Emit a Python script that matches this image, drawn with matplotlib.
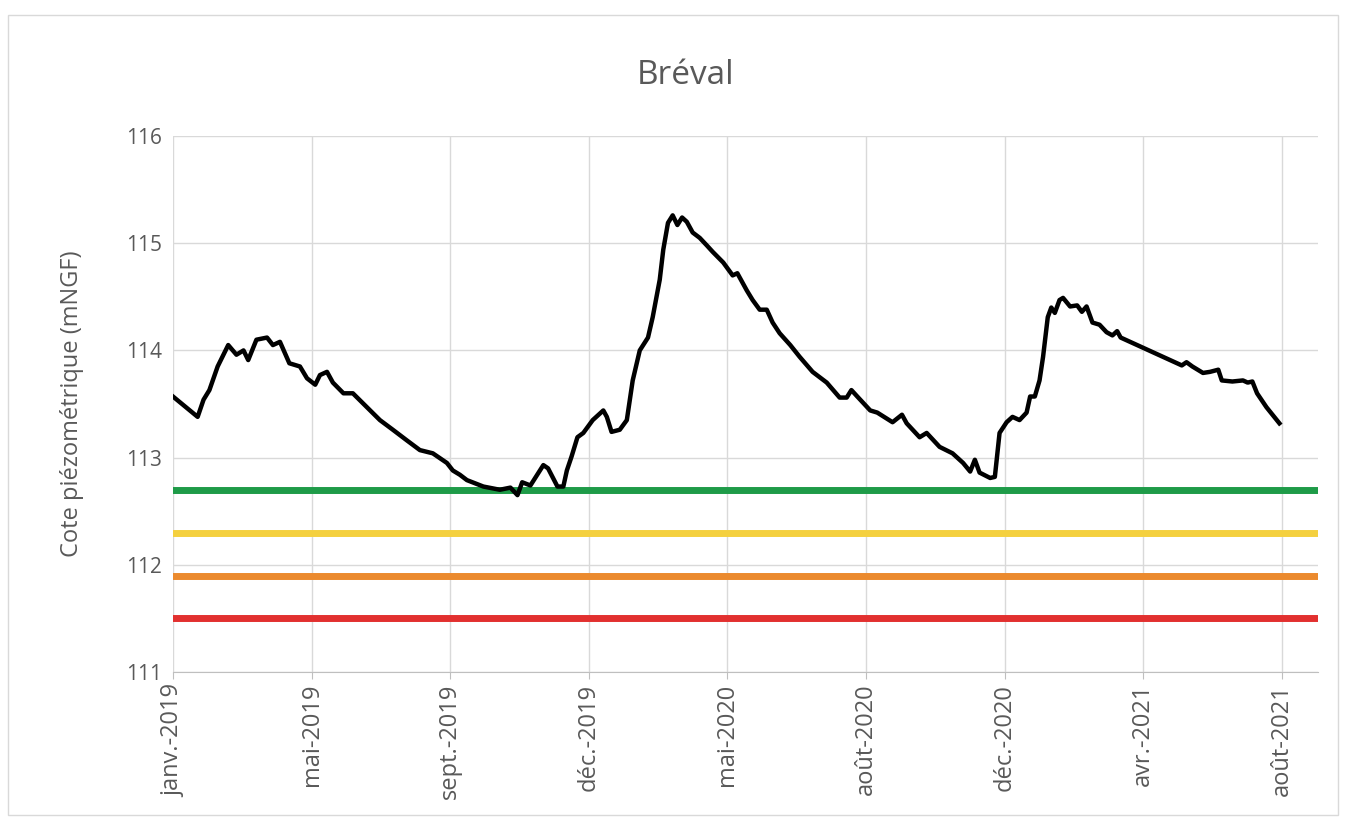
import matplotlib
matplotlib.use('Agg')
import matplotlib.pyplot as plt
import pandas as pd
from matplotlib.patches import Rectangle

# days since 2019-01-01 and water level (mNGF)
days = [0, 21, 26, 31, 38, 47, 54, 60, 64, 71, 80, 85, 91, 99, 108, 114, 121, 125,
        131, 136, 145, 153, 165, 176, 187, 199, 210, 221, 233, 238, 244, 250, 264,
        278, 287, 293, 297, 304, 315, 319, 327, 332, 335, 339, 344, 349, 357, 366,
        369, 373, 380, 386, 391, 397, 404, 408, 414, 417, 421, 425, 429, 433, 437,
        442, 448, 454, 459, 468, 476, 480, 488, 493, 499, 505, 510, 516, 525, 533,
        544, 556, 567, 573, 577, 582, 593, 599, 612, 620, 624, 635, 641, 652, 663,
        672, 678, 682, 686, 695, 699, 703, 709, 714, 720, 726, 729, 733, 737, 740,
        744, 747, 750, 754, 757, 763, 769, 773, 777, 782, 788, 794, 799, 803, 806,
        858, 862, 867, 876, 882, 889, 892, 901, 910, 914, 918, 922, 930, 941]
level = [113.57, 113.38, 113.54, 113.63, 113.85, 114.05, 113.96, 114.00, 113.91,
         114.10, 114.12, 114.05, 114.08, 113.88, 113.85, 113.74, 113.68, 113.77,
         113.80, 113.70, 113.60, 113.60, 113.47, 113.35, 113.26, 113.16, 113.07,
         113.04, 112.95, 112.88, 112.84, 112.79, 112.73, 112.70, 112.72, 112.65,
         112.77, 112.74, 112.93, 112.90, 112.73, 112.73, 112.88, 113.01, 113.19,
         113.23, 113.35, 113.44, 113.38, 113.24, 113.26, 113.35, 113.72, 114.00,
         114.12, 114.31, 114.66, 114.94, 115.19, 115.26, 115.17, 115.24, 115.20,
         115.10, 115.05, 114.98, 114.92, 114.82, 114.70, 114.72, 114.56, 114.47,
         114.38, 114.38, 114.26, 114.16, 114.05, 113.94, 113.80, 113.70, 113.56,
         113.56, 113.63, 113.57, 113.44, 113.42, 113.33, 113.40, 113.32, 113.19,
         113.23, 113.10, 113.04, 112.95, 112.87, 112.98, 112.86, 112.81, 112.82,
         113.23, 113.33, 113.38, 113.35, 113.42, 113.57, 113.57, 113.72, 113.94,
         114.31, 114.40, 114.35, 114.47, 114.49, 114.41, 114.42, 114.36, 114.41,
         114.26, 114.24, 114.17, 114.14, 114.18, 114.12, 113.86, 113.89, 113.85,
         113.79, 113.80, 113.82, 113.72, 113.71, 113.72, 113.70, 113.71, 113.60,
         113.47, 113.32]

# alert thresholds
thresholds = [112.7, 112.3, 111.9, 111.5]
threshold_colors = ['#1e9b48', '#f4d03f', '#eb8a2e', '#e2302f']

tick_labels = ['janv.-2019', 'mai-2019', 'sept.-2019', 'déc.-2019', 'mai-2020',
               'août-2020', 'déc.-2020', 'avr.-2021', 'août-2021']

start = pd.Timestamp('2019-01-01')
dates = start + pd.to_timedelta(days, unit='D')
tick_step = 943 / 8
tick_dates = [start + pd.Timedelta(days=i * tick_step) for i in range(len(tick_labels))]

plt.rcParams['font.family'] = ['Open Sans', 'DejaVu Sans']
grey = '#595959'

fig = plt.figure(figsize=(13.46, 8.23), dpi=100)
fig.patches.append(Rectangle((0.006, 0.01), 0.988, 0.972, transform=fig.transFigure,
                             fill=False, edgecolor='#d9d9d9', linewidth=1))
ax = fig.add_axes([0.1285, 0.1835, 0.8505, 0.6512])

for t, c in zip(thresholds, threshold_colors):
    ax.axhline(t, color=c, linewidth=5, zorder=2)

ax.plot(dates, level, color='black', linewidth=3.2, zorder=3,
        solid_joinstyle='round')

ax.set_ylim(111, 116)
ax.set_yticks([111, 112, 113, 114, 115, 116])
ax.set_xlim(start, start + pd.Timedelta(days=973.6))
ax.set_xticks(tick_dates)
ax.set_xticklabels(tick_labels, rotation=90)

ax.grid(True, color='#d9d9d9', linewidth=1)
ax.set_axisbelow(True)
for s in ['top', 'right', 'left']:
    ax.spines[s].set_visible(False)
ax.spines['bottom'].set_color('#bfbfbf')
ax.tick_params(axis='both', colors='#bfbfbf', labelcolor=grey, labelsize=15, length=5)
ax.tick_params(axis='x', labelsize=17)
ax.tick_params(axis='y', length=0, pad=8)

ax.set_ylabel('Cote piézométrique (mNGF)', color=grey, fontsize=17, labelpad=30)
fig.text(0.509, 0.908, 'Bréval', ha='center', va='center', fontsize=24, color=grey)

fig.savefig('out.png', dpi=100)
